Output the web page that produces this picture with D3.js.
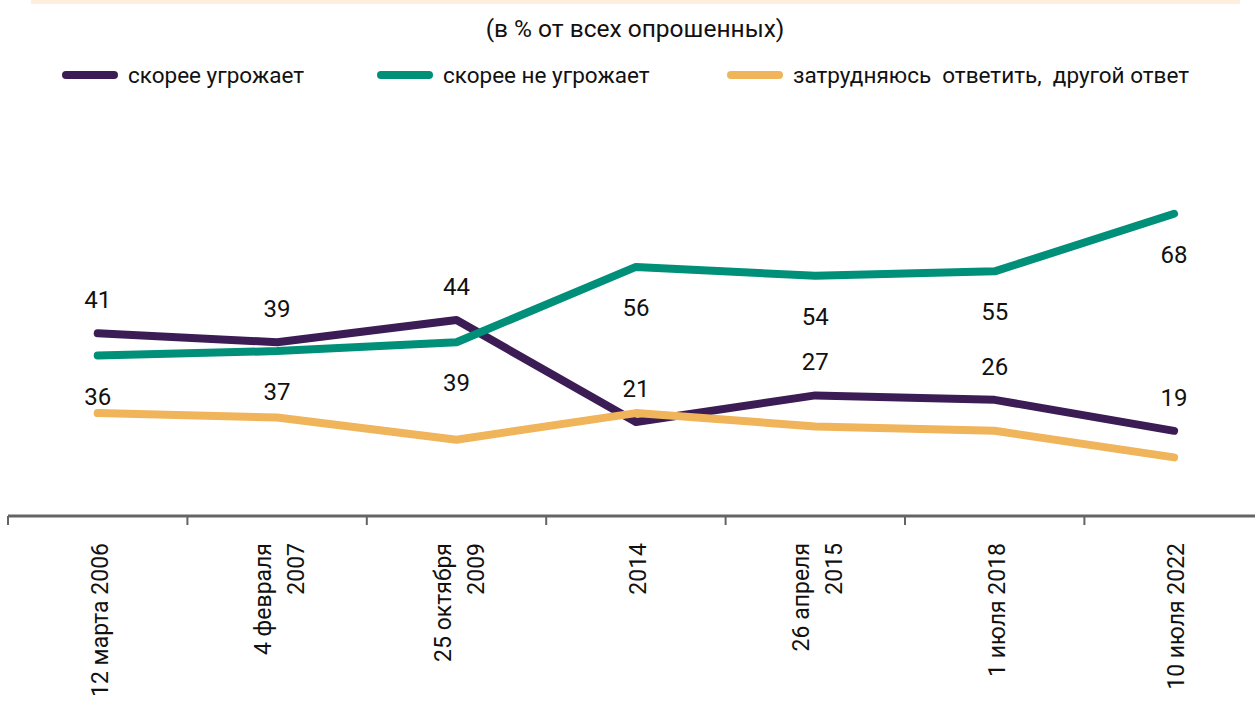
<!DOCTYPE html>
<html>
<head>
<meta charset="utf-8">
<script src="https://cdn.jsdelivr.net/npm/d3@7"></script>
<style>
  body { margin: 0; background: #fff; }
  svg { display: block; font-family: "Roboto", "Noto Sans", sans-serif; }
</style>
</head>
<body>
<svg id="chart" width="1255" height="707"></svg>
<script>
// data
const dates = [
  ["12 марта 2006"],
  ["4 февраля", "2007"],
  ["25 октября", "2009"],
  ["2014"],
  ["26 апреля", "2015"],
  ["1 июля 2018"],
  ["10 июля 2022"]
];
const threatens = [41, 39, 44, 21, 27, 26, 19];
const notThreatens = [36, 37, 39, 56, 54, 55, 68];
const hardToSay = [23, 22, 17, 23, 20, 19, 13];

const seriesNames = ["скорее угрожает", "скорее не угрожает", "затрудняюсь  ответить,  другой ответ"];
const colors = ["#3c1c54", "#008f78", "#f0b45a"];

const svg = d3.select("#chart");

// top band
svg.append("rect").attr("x", 31).attr("y", 0).attr("width", 1209).attr("height", 4).attr("fill", "#fdefdc");

svg.append("text")
  .attr("x", 635).attr("y", 37)
  .attr("text-anchor", "middle")
  .attr("font-size", 24.5)
  .attr("fill", "#111")
  .text("(в % от всех опрошенных)");

// legend
var legendX = [62, 377, 727];
seriesNames.forEach(function (name, i) {
  var g = svg.append("g").attr("transform", "translate(" + legendX[i] + ",75)");
  g.append("line").attr("x1", 4).attr("x2", 52).attr("y1", 0).attr("y2", 0)
    .attr("stroke", colors[i]).attr("stroke-width", 8).attr("stroke-linecap", "round");
  g.append("text").attr("x", 66).attr("y", 8)
    .attr("font-size", 22.5).attr("fill", "#111")
    .style("white-space", "pre")
    .text(name);
});

var x = d3.scaleBand().domain(d3.range(dates.length)).range([8, 8 + 7 * 179.4]);
var y = d3.scaleLinear().domain([0, 100]).range([515, 72]);
var cx = function (i) { return x(i) + x.bandwidth() / 2; };

// axis
var axis = svg.append("g");
axis.append("line").attr("x1", 8).attr("x2", 1255).attr("y1", 516).attr("y2", 516)
  .attr("stroke", "#646464").attr("stroke-width", 3);
axis.selectAll(".tick").data(d3.range(dates.length)).enter().append("line")
  .attr("x1", function (d) { return x(d); }).attr("x2", function (d) { return x(d); })
  .attr("y1", 516).attr("y2", 525)
  .attr("stroke", "#646464").attr("stroke-width", 2);

axis.selectAll(".lbl").data(dates).enter().append("text")
  .attr("transform", function (d, i) {
    var shift = d.length > 1 ? -14 : 2;
    return "translate(" + (cx(i) + shift + 8) + ",543) rotate(-90)";
  })
  .attr("text-anchor", "end")
  .attr("font-size", 23)
  .attr("fill", "#111")
  .each(function (d) {
    var t = d3.select(this);
    d.forEach(function (line, k) {
      t.append("tspan").attr("x", 0).attr("dy", k == 0 ? 0 : 33).text(line);
    });
  });

// lines
var line = d3.line().x(function (d, i) { return cx(i); }).y(function (d) { return y(d); });
[threatens, notThreatens, hardToSay].forEach(function (s, i) {
  svg.append("path").datum(s).attr("d", line)
    .attr("fill", "none").attr("stroke", colors[i]).attr("stroke-width", 8)
    .attr("stroke-linecap", "round").attr("stroke-linejoin", "round");
});

// value labels
svg.selectAll(".lt").data(threatens).enter().append("text")
  .attr("x", function (d, i) { return cx(i); })
  .attr("y", function (d) { return y(d) - 25; })
  .attr("text-anchor", "middle").attr("font-size", 24).attr("fill", "#111")
  .text(function (d) { return d; });
svg.selectAll(".ln").data(notThreatens).enter().append("text")
  .attr("x", function (d, i) { return cx(i); })
  .attr("y", function (d) { return y(d) + 49; })
  .attr("text-anchor", "middle").attr("font-size", 24).attr("fill", "#111")
  .text(function (d) { return d; });
</script>
</body>
</html>
